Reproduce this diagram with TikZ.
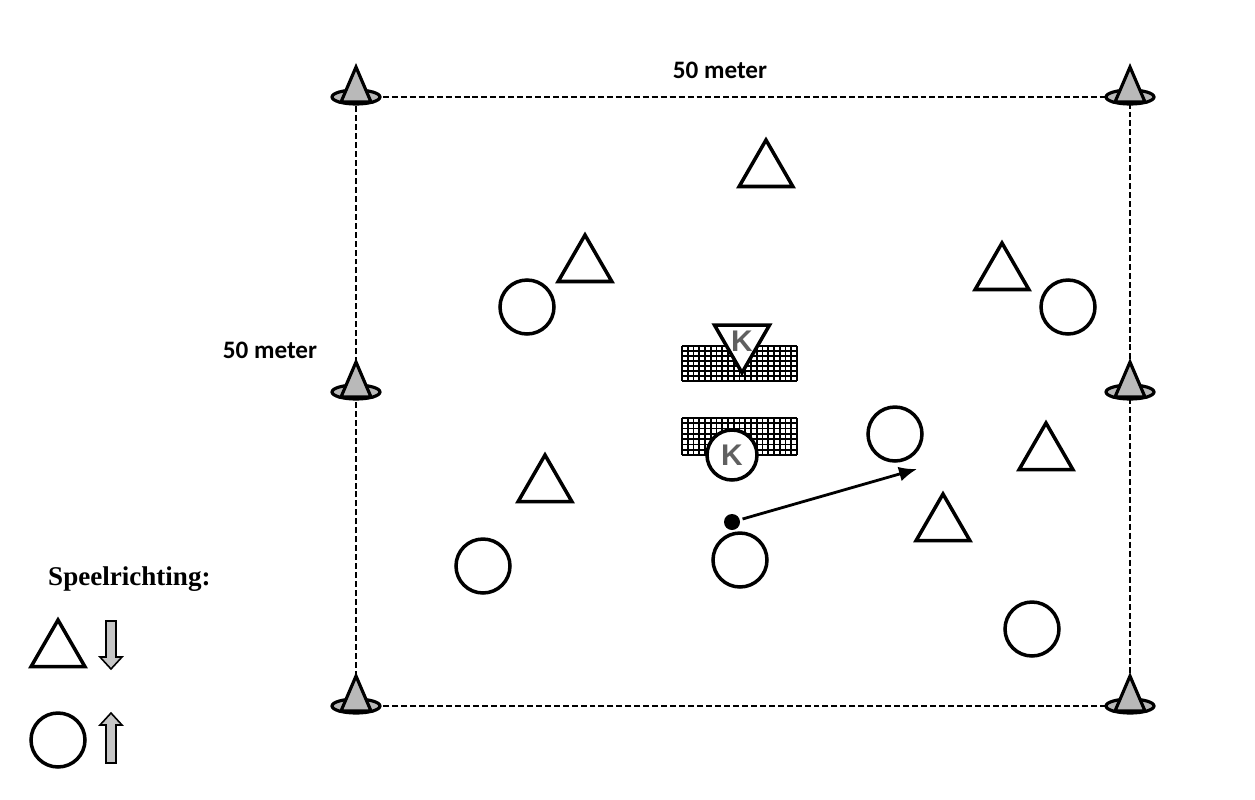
\documentclass[tikz,border=0pt]{standalone}
\usepackage{fontspec}
\setmainfont{Liberation Serif}
\newfontfamily\labelfont{Carlito}
\newfontfamily\keeperfont{Liberation Sans}
\usetikzlibrary{shapes.geometric, arrows.meta}

\begin{document}
\begin{tikzpicture}[
  x=0.02cm, y=-0.02cm,
  player/.style={draw, line width=2pt, fill=white, inner sep=0pt},
  tri/.style={player, regular polygon, regular polygon sides=3, minimum size=12.4mm},
  circ/.style={player, circle, minimum size=10.8mm},
  keeper/.style={font=\keeperfont\bfseries\fontsize{17}{17}\selectfont, text=gray!75!black},
  meters/.style={font=\labelfont\bfseries\fontsize{14.3}{17}\selectfont},
  field/.style={line width=1.5pt, dash pattern=on 3.4pt off 1.7pt},
  cone/.style={draw, line width=1.8pt, fill=gray!55},
  net/.style={line width=1pt},
  pass/.style={-{Latex[length=3.6mm, width=3mm]}, line width=1.6pt},
  legarrow/.style={draw, line width=0.9pt, fill=gray!45}
]
  \useasboundingbox (0,0) rectangle (1255,799);

  % cones
  \coordinate (coneNW) at (356,97);
  \coordinate (coneNE) at (1130,97);
  \coordinate (coneW)  at (356,392);
  \coordinate (coneE)  at (1130,392);
  \coordinate (coneSW) at (356,706);
  \coordinate (coneSE) at (1130,706);

  \draw[field] (coneNW) -- (coneNE) -- (coneSE) -- (coneSW) -- cycle;

  \foreach \c in {coneNW, coneNE, coneW, coneE, coneSW, coneSE} {
    \draw[cone] (\c) ellipse (24 and 7);
    \draw[cone, line join=miter] (\c) ++(-15,5) -- ++(15,-35) -- ++(15,35) -- cycle;
  }

  \node[meters] (lenTop)  at (720,70)  {50 meter};
  \node[meters] (lenLeft) at (270,350) {50 meter};

  % goals
  \foreach \i in {0,...,7}
    \draw[net] (682,{346+\i*5}) -- (797,{346+\i*5});
  \foreach \i in {0,...,20}
    \draw[net] ({682+\i*5.75},346) -- ({682+\i*5.75},381);
  \foreach \i in {0,...,7}
    \draw[net] (682,{418+\i*37/7}) -- (797,{418+\i*37/7});
  \foreach \i in {0,...,20}
    \draw[net] ({682+\i*5.75},418) -- ({682+\i*5.75},455);

  \node[tri, shape border rotate=180, minimum size=12.7mm, keeper] (keepTop) at (742,341) {K};
  \node[circ, minimum size=10mm, keeper] (keepBot) at (732,455) {K};

  % players
  \node[tri] (triA) at (766,171) {};
  \node[tri] (triB) at (585,266) {};
  \node[tri] (triC) at (1002,274) {};
  \node[tri] (triD) at (1046,454) {};
  \node[tri] (triE) at (943,525) {};
  \node[tri] (triF) at (545,486) {};

  \node[circ] (circA) at (527,307) {};
  \node[circ] (circB) at (1068,307) {};
  \node[circ] (circC) at (895,434) {};
  \node[circ] (circD) at (740,560) {};
  \node[circ] (circE) at (483,566) {};
  \node[circ] (circF) at (1032,629) {};

  \node[circle, fill=black, minimum size=3.2mm, inner sep=0pt] (ball) at (732,522) {};
  \coordinate (passEnd) at (917,469);
  \draw[pass, shorten <=1.5pt] (ball) -- (passEnd);

  % legend
  \node[font=\bfseries\fontsize{15.4}{18}\selectfont, anchor=base west] (legTitle) at (42,585) {Speelrichting:};
  \node[tri] (legTri) at (58,651) {};
  \node[circ] (legCirc) at (58,740) {};

  \coordinate (dnArr) at (111,621);
  \draw[legarrow] (dnArr) ++(-5,0) -- ++(0,36) -- ++(-6,0) -- ++(11,12)
    -- ++(11,-12) -- ++(-6,0) -- ++(0,-36) -- cycle;
  \coordinate (upArr) at (111,713);
  \draw[legarrow] (upArr) -- ++(11,12) -- ++(-6,0) -- ++(0,38) -- ++(-10,0)
    -- ++(0,-38) -- ++(-6,0) -- cycle;
\end{tikzpicture}
\end{document}
